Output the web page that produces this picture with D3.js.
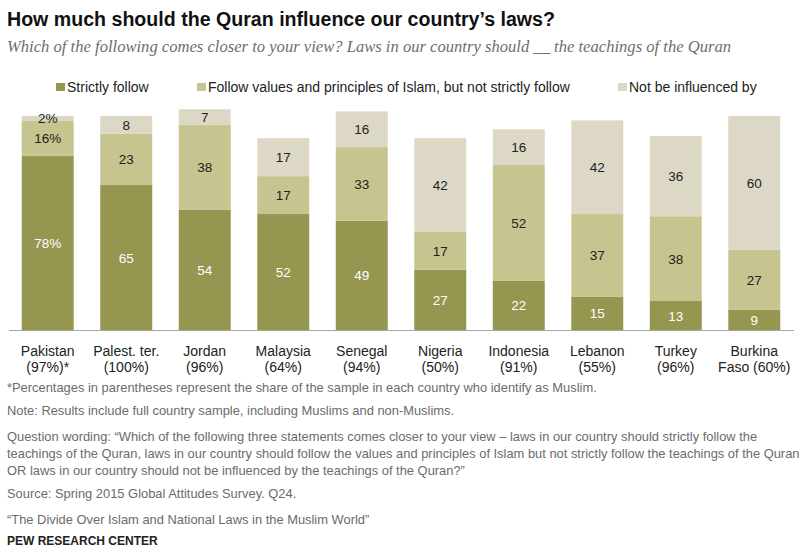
<!DOCTYPE html>
<html>
<head>
<meta charset="utf-8">
<script src="https://cdn.jsdelivr.net/npm/d3@7"></script>
<style>
  body { margin: 0; background: #fff; }
  text { font-family: "Liberation Sans Narrow", "Liberation Sans", Arial, sans-serif; }
</style>
</head>
<body>
<div id="chart"></div>
<script>
// Width and height
var chart_width = 800;
var chart_height = 547;

// data
var countries = ["Pakistan", "Palest. ter.", "Jordan", "Malaysia", "Senegal", "Nigeria", "Indonesia", "Lebanon", "Turkey", "Burkina"];
var muslimShare = ["(97%)*", "(100%)", "(96%)", "(64%)", "(94%)", "(50%)", "(91%)", "(55%)", "(96%)", "Faso (60%)"];
var strictly = [78, 65, 54, 52, 49, 27, 22, 15, 13, 9];
var values = [16, 23, 38, 17, 33, 17, 52, 37, 38, 27];
var notInfluenced = [2, 8, 7, 17, 16, 42, 16, 42, 36, 60];
var seriesNames = ["Strictly follow", "Follow values and principles of Islam, but not strictly follow", "Not be influenced by"];
var colors = ["#95964f", "#c6c590", "#ddd7c6"];

var footnotes = [
  "*Percentages in parentheses represent the share of the sample in each country who identify as Muslim.",
  "Note: Results include full country sample, including Muslims and non-Muslims.",
  "Question wording: \u201cWhich of the following three statements comes closer to your view \u2013 laws in our country should strictly follow the",
  "teachings of the Quran, laws in our country should follow the values and principles of Islam but not strictly follow the teachings of the Quran",
  "OR laws in our country should not be influenced by the teachings of the Quran?\u201d",
  "Source: Spring 2015 Global Attitudes Survey. Q24.",
  "\u201cThe Divide Over Islam and National Laws in the Muslim World\u201d"
];
var footY = [392, 415, 441, 458, 475, 498, 524];

var svg = d3.select("#chart").append("svg")
  .attr("width", chart_width)
  .attr("height", chart_height);

// titles
svg.append("text")
  .attr("x", 7).attr("y", 26)
  .style("font-family", "Liberation Sans, Arial, sans-serif")
  .attr("font-weight", "bold")
  .attr("font-size", 19.6)
  .attr("fill", "#111")
  .text("How much should the Quran influence our country\u2019s laws?");

svg.append("text")
  .attr("x", 7).attr("y", 52)
  .style("font-family", "Liberation Serif, Georgia, serif")
  .attr("font-style", "italic")
  .attr("font-size", 16.6)
  .attr("fill", "#6e6e6e")
  .text("Which of the following comes closer to your view? Laws in our country should __ the teachings of the Quran");

// legend
var legendX = [56, 197, 618];
var legend = svg.selectAll(".legend").data(seriesNames).enter().append("g")
  .attr("class", "legend")
  .attr("transform", function(d, i) { return "translate(" + legendX[i] + ",83)"; });
legend.append("rect").attr("width", 9).attr("height", 8)
  .attr("fill", function(d, i) { return colors[i]; });
legend.append("text").attr("x", 11).attr("y", 9)
  .style("font-family", "Liberation Sans, Arial, sans-serif")
  .attr("font-size", 14)
  .attr("fill", "#222")
  .text(function(d) { return d; });

// scales
var x = d3.scaleBand().domain(countries).range([8, 794]).paddingInner(0.338).paddingOuter(0.175);
var y = d3.scaleLinear().domain([0, 100]).range([330, 107]);

var rows = countries.map(function(c, i) {
  return { country: c, strictly: strictly[i], values: values[i], notInfluenced: notInfluenced[i] };
});
var keys = ["strictly", "values", "notInfluenced"];
var stacked = d3.stack().keys(keys)(rows);

var layer = svg.selectAll(".layer").data(stacked).enter().append("g")
  .attr("class", "layer")
  .attr("fill", function(d, i) { return colors[i]; });

layer.selectAll("rect").data(function(d) { return d; }).enter().append("rect")
  .attr("x", function(d) { return x(d.data.country); })
  .attr("width", x.bandwidth())
  .attr("y", function(d) { return y(d[1]); })
  .attr("height", function(d) { return y(d[0]) - y(d[1]); });

// value labels
stacked.forEach(function(s, k) {
  svg.selectAll(".lbl" + k).data(s).enter().append("text")
    .attr("x", function(d) { return x(d.data.country) + x.bandwidth() / 2; })
    .attr("y", function(d) { return (y(d[0]) + y(d[1])) / 2 + 5; })
    .attr("text-anchor", "middle")
    .style("font-family", "Liberation Sans, Arial, sans-serif")
    .attr("font-size", 13.5)
    .attr("fill", k == 0 ? "#fff" : "#222")
    .text(function(d, i) { return (d[1] - d[0]) + (i == 0 ? "%" : ""); });
});

// baseline
svg.append("line")
  .attr("x1", 9).attr("x2", 794)
  .attr("y1", 330.5).attr("y2", 330.5)
  .attr("stroke", "#a6a6a6").attr("stroke-width", 1.2);

// country labels
var xl = svg.selectAll(".xlabel").data(countries).enter().append("text")
  .attr("class", "xlabel")
  .attr("text-anchor", "middle")
  .attr("font-size", 14)
  .attr("fill", "#222");
xl.append("tspan")
  .attr("x", function(d) { return x(d) + x.bandwidth() / 2; })
  .attr("y", 356)
  .text(function(d) { return d; });
xl.append("tspan")
  .attr("x", function(d) { return x(d) + x.bandwidth() / 2; })
  .attr("y", 372)
  .text(function(d, i) { return muslimShare[i]; });

// footnotes
svg.selectAll(".foot").data(footnotes).enter().append("text")
  .attr("class", "foot")
  .attr("x", 7)
  .attr("y", function(d, i) { return footY[i]; })
  .attr("font-size", 12.9)
  .attr("fill", "#6b6b6b")
  .text(function(d) { return d; });

svg.append("text")
  .attr("x", 7).attr("y", 545)
  .attr("font-weight", "bold")
  .attr("font-size", 12)
  .attr("fill", "#222")
  .text("PEW RESEARCH CENTER");
</script>
</body>
</html>
